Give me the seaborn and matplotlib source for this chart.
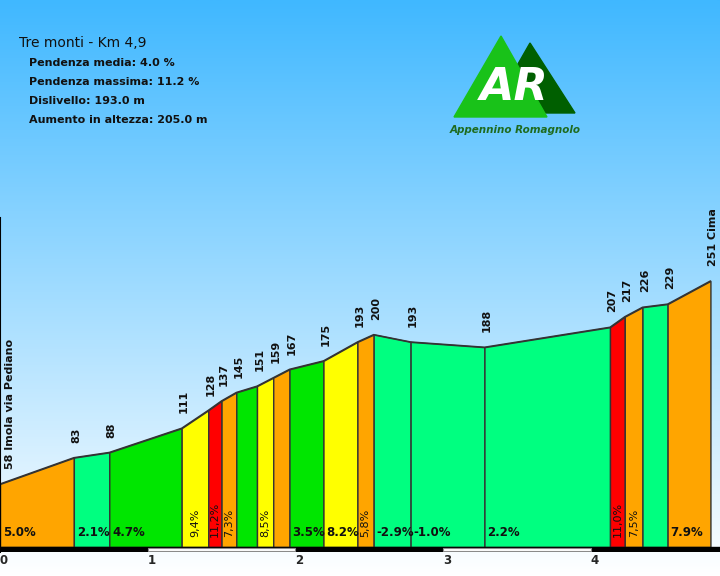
import numpy as np
import matplotlib
matplotlib.use("Agg")
import matplotlib.pyplot as plt
from matplotlib.colors import LinearSegmentedColormap
from matplotlib.patches import Polygon, Rectangle
import seaborn as sns

# Profilo altimetrico: distanza (km) e quota (m) di ogni punto
distanze = [0.00, 0.50, 0.74, 1.23, 1.41, 1.50, 1.60, 1.74, 1.85, 1.96,
            2.19, 2.42, 2.53, 2.78, 3.28, 4.13, 4.23, 4.35, 4.52, 4.81]
quote = [58, 83, 88, 111, 128, 137, 145, 151, 159, 167,
         175, 193, 200, 193, 188, 207, 217, 226, 229, 251]
nomi_punti = {0: "Imola via Pediano", 19: "Cima"}

# Tratti: etichetta della pendenza, se scritta in verticale, colore
etichette_pendenza = ["5.0%", "2.1%", "4.7%", "9,4%", "11,2%", "7,3%", "", "8,5%", "",
                      "3.5%", "8.2%", "5,8%", "-2.9%", "-1.0%", "2.2%", "11,0%", "7,5%", "", "7.9%"]
verticale = [False, False, False, True, True, True, False, True, False,
             False, False, True, False, False, False, True, True, False, False]
colori_tratti = ["#ffa500", "#00ff80", "#00e600", "#ffff00", "#ff0000", "#ffa500", "#00e600",
                 "#ffff00", "#ffa500", "#00e600", "#ffff00", "#ffa500", "#00ff80", "#00ff80",
                 "#00ff80", "#ff0000", "#ffa500", "#00ff80", "#ffa500"]

km = [0, 1, 2, 3, 4]
titolo = "Tre monti - Km 4,9"
statistiche = ["Pendenza media: 4.0 %", "Pendenza massima: 11.2 %",
               "Dislivello: 193.0 m", "Aumento in altezza: 205.0 m"]

sns.set_style("white")
fig = plt.figure(figsize=(7.2, 5.76), dpi=100)

# sfondo sfumato (coordinate in pixel)
bg = fig.add_axes([0, 0, 1, 1])
bg.set_xlim(0, 720)
bg.set_ylim(576, 0)
bg.axis("off")
cielo = LinearSegmentedColormap.from_list("cielo", ["#40b8ff", "#ffffff"])
bg.imshow(np.linspace(0, 1, 256).reshape(-1, 1), cmap=cielo, aspect="auto",
          extent=[0, 720, 576, 0])

# titolo e dati
bg.text(19, 43, titolo, fontsize=10, va="center", color="#111111")
for i, s in enumerate(statistiche):
    bg.text(29, 63 + 19 * i, s, fontsize=8, fontweight="bold", va="center", color="#111111")

# logo
bg.add_patch(Polygon([(530, 43), (575, 113), (490, 113)], closed=True, color="#005f00"))
bg.add_patch(Polygon([(501, 36), (547, 117), (454, 117)], closed=True, color="#19c219"))
bg.text(514, 88, "AR", fontsize=32, fontweight="bold", fontstyle="italic",
        color="white", ha="center", va="center")
bg.text(515, 130, "Appennino Romagnolo", fontsize=7.5, fontweight="bold",
        fontstyle="italic", color="#1f6b1f", ha="center", va="center")

# grafico altimetria
ax = fig.add_axes([0, 24 / 576, 1, 334 / 576])
ax.set_facecolor("none")
ax.set_xlim(0, 720 / 147.7)
ax.set_ylim(-6.7, 310.8)

for i in range(len(quote) - 1):
    ax.fill_between(distanze[i:i + 2], quote[i:i + 2], -1.9, facecolor=colori_tratti[i],
                    edgecolor="#333333", linewidth=1)
sns.lineplot(x=distanze, y=quote, color="#333333", linewidth=1, ax=ax)

for i, (d, q) in enumerate(zip(distanze, quote)):
    testo = f"{q} {nomi_punti[i]}" if i in nomi_punti else str(q)
    x = 0.065 if i == 0 else d + 0.017
    ax.text(x, q + 14, testo, rotation=90, ha="center", va="bottom",
            fontsize=8, fontweight="bold", color="#111111")

for i, lab in enumerate(etichette_pendenza):
    if not lab:
        continue
    x0, x1 = distanze[i], distanze[i + 1]
    if verticale[i]:
        ax.text((x0 + x1) / 2, 7.5, lab, rotation=90, ha="center", va="bottom",
                fontsize=8, color="#111111")
    else:
        ax.text(x0 + 0.02, 11.5, lab, ha="left", va="center", fontsize=8.5,
                fontweight="bold", color="#111111")

# barra dei chilometri
ax.axhspan(-6.7, -1.9, color="black", zorder=3)
for k in km[1::2]:
    ax.add_patch(Rectangle((k, -5.9), 1, 3.2, facecolor="white", edgecolor="#8a8a8a",
                           linewidth=0.8, zorder=4))

ax.set_xticks(km)
ax.set_xticklabels([str(k) for k in km])
ax.tick_params(axis="x", length=0, pad=1.5, labelsize=8.5)
for t in ax.get_xticklabels():
    t.set_ha("left")
    t.set_fontweight("bold")
ax.set_yticks([])
ax.set_xlabel("")
ax.set_ylabel("")
for side in ["top", "right", "bottom"]:
    ax.spines[side].set_visible(False)
ax.spines["left"].set_color("black")
ax.spines["left"].set_linewidth(1.5)

fig.savefig("out.png", dpi=100)
